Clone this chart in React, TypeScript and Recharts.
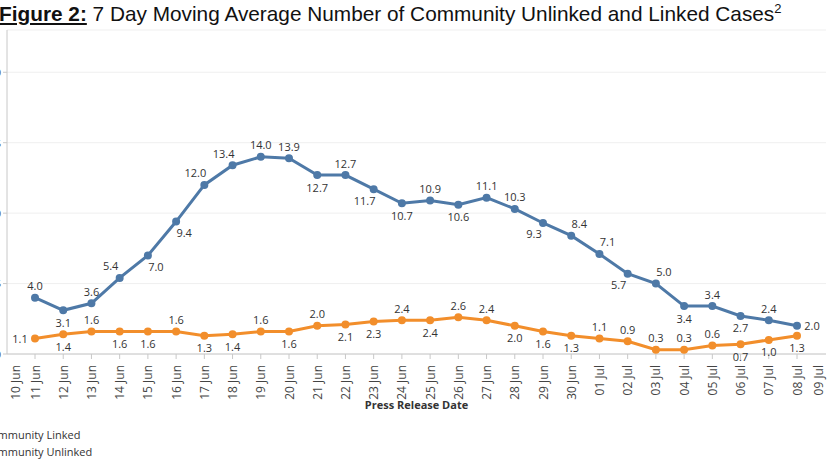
import React from 'react';
import { LineChart, Line, XAxis, YAxis, CartesianGrid, LabelList } from 'recharts';

const dates = [
  '10 Jun', '11 Jun', '12 Jun', '13 Jun', '14 Jun', '15 Jun', '16 Jun', '17 Jun', '18 Jun', '19 Jun',
  '20 Jun', '21 Jun', '22 Jun', '23 Jun', '24 Jun', '25 Jun', '26 Jun', '27 Jun', '28 Jun', '29 Jun',
  '30 Jun', '01 Jul', '02 Jul', '03 Jul', '04 Jul', '05 Jul', '06 Jul', '07 Jul', '08 Jul', '09 Jul',
];

const linked = [
  4.0, 3.1, 3.6, 5.4, 7.0, 9.4, 12.0, 13.4, 14.0, 13.9, 12.7, 12.7, 11.7, 10.7,
  10.9, 10.6, 11.1, 10.3, 9.3, 8.4, 7.1, 5.7, 5.0, 3.4, 3.4, 2.7, 2.4, 2.0,
];

const unlinked = [
  1.1, 1.4, 1.6, 1.6, 1.6, 1.6, 1.3, 1.4, 1.6, 1.6, 2.0, 2.1, 2.3, 2.4,
  2.4, 2.6, 2.4, 2.0, 1.6, 1.3, 1.1, 0.9, 0.3, 0.3, 0.6, 0.7, 1.0, 1.3,
];

const yTicks = [0, 5, 10, 15, 20];

// where each value label sits relative to its point
const linkedSide = [
  't', 'b', 't', 'tl', 'br', 'br', 'tl', 'tl', 't', 't', 'b', 't', 'bl', 'b',
  't', 'b', 't', 't', 'bl', 'tr', 'tr', 'bl', 'tr', 'b', 't', 'b', 't', 'r',
];
const unlinkedSide = [
  'l', 'b', 't', 'b', 'b', 't', 'b', 'b', 't', 'b', 't', 'b', 'b', 't',
  'b', 't', 't', 'b', 'b', 'b', 't', 't', 't', 't', 't', 'b', 'b', 'b',
];

const BLUE = '#4e79a7';
const ORANGE = '#f28e2b';
const FONT = '"Open Sans", Arial, sans-serif';

const categories = dates.slice(1, -1);
const data = categories.map((d, i) => ({ date: d, linked: linked[i], unlinked: unlinked[i] }));

const offsets: Record<string, [number, number]> = {
  t: [0, -12],
  b: [0, 12],
  l: [-15, 0],
  r: [15, 0],
  tl: [-9, -12],
  tr: [8, -12],
  bl: [-9, 11],
  br: [8, 11],
};

const makeLabel = (sides: string[]) => (props: any) => {
  const { x, y, value, index } = props;
  if (value == null) return null;
  const [dx, dy] = offsets[sides[index]] || [0, -12];
  return (
    <text
      x={x + dx}
      y={y + dy}
      textAnchor="middle"
      dominantBaseline="central"
      fontSize={11}
      fill="#333"
      fontFamily={FONT}
    >
      {Number(value).toFixed(1)}
    </text>
  );
};

const DateTick = (props: any) => {
  const { x, y, payload, index } = props;
  const drawOne = (tx: number, label: string, key: string) => (
    <text
      key={key}
      x={tx}
      y={y + 4}
      transform={`rotate(-90, ${tx}, ${y + 4})`}
      textAnchor="end"
      dominantBaseline="central"
      fontSize={12}
      fill="#444"
      fontFamily={FONT}
    >
      {label}
    </text>
  );
  return (
    <g>
      {index === 0 && drawOne(x - 20, dates[0], 'first')}
      {drawOne(x, payload.value, 'main')}
      {index === categories.length - 1 && drawOne(x + 21, dates[dates.length - 1], 'last')}
    </g>
  );
};

export default function App() {
  return (
    <div style={{ position: 'absolute', left: 0, top: 0, width: 830, height: 468, overflow: 'hidden', background: '#fff' }}>
      <div
        style={{
          position: 'absolute',
          left: -1,
          top: 1,
          fontFamily: '"Liberation Sans", Arial, sans-serif',
          fontSize: 20.8,
          color: '#111',
          whiteSpace: 'nowrap',
        }}
      >
        <span style={{ fontWeight: 'bold', textDecoration: 'underline' }}>Figure 2:</span> 7 Day Moving Average
        Number of Community Unlinked and Linked Cases<sup style={{ fontSize: 13 }}>2</sup>
      </div>
      <LineChart
        width={830}
        height={468}
        data={data}
        margin={{ top: 30, right: 4, left: 0, bottom: 54 }}
        style={{ position: 'absolute', left: 0, top: 0 }}
      >
        <CartesianGrid vertical={false} stroke="#efefef" />
        <XAxis
          dataKey="date"
          interval={0}
          padding={{ left: 28, right: 29 }}
          height={60}
          tick={<DateTick />}
          tickSize={5}
          stroke="#c8c8c8"
          label={{
            value: 'Press Release Date',
            position: 'insideBottom',
            offset: 5,
            fontSize: 11,
            fontWeight: 'bold',
            fill: '#333',
            fontFamily: FONT,
          }}
        />
        <YAxis
          width={7}
          domain={[0, 23]}
          ticks={yTicks}
          tickSize={4}
          stroke="#c8c8c8"
          tick={{ fontSize: 11, fill: '#555' }}
        />
        <Line
          type="linear"
          dataKey="linked"
          stroke={BLUE}
          strokeWidth={3}
          dot={{ r: 2.5, fill: BLUE, stroke: BLUE }}
          isAnimationActive={false}
        >
          <LabelList dataKey="linked" content={makeLabel(linkedSide)} />
        </Line>
        <Line
          type="linear"
          dataKey="unlinked"
          stroke={ORANGE}
          strokeWidth={3}
          dot={{ r: 2.5, fill: ORANGE, stroke: ORANGE }}
          isAnimationActive={false}
        >
          <LabelList dataKey="unlinked" content={makeLabel(unlinkedSide)} />
        </Line>
      </LineChart>
      <div
        style={{
          position: 'absolute',
          left: -16,
          top: 426,
          fontFamily: FONT,
          fontSize: 11,
          color: '#333',
          lineHeight: '17px',
        }}
      >
        <div>Community Linked</div>
        <div>Community Unlinked</div>
      </div>
    </div>
  );
}
